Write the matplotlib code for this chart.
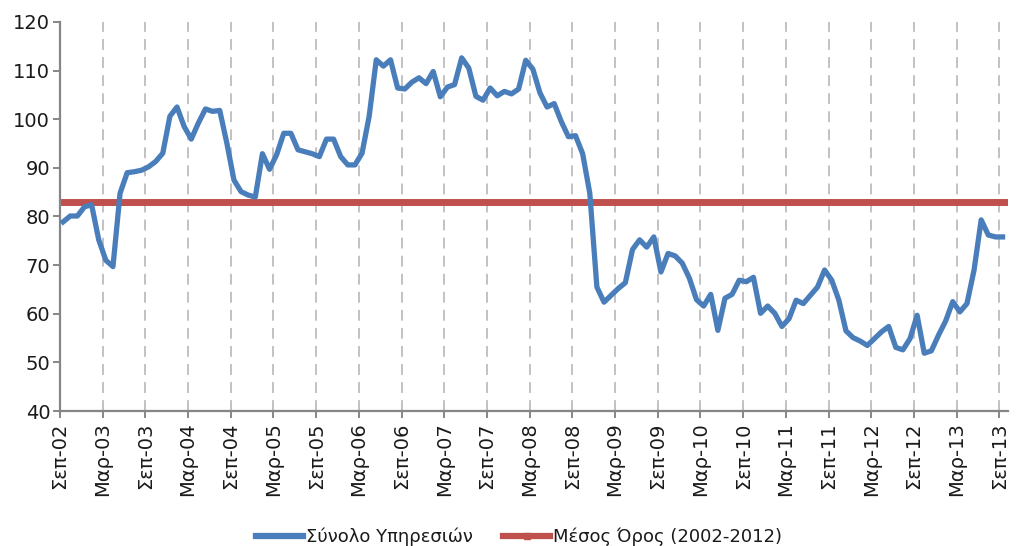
import numpy as np
import matplotlib
matplotlib.use("Agg")
import matplotlib.pyplot as plt
from matplotlib.lines import Line2D

plt.rcParams['font.family'] = ['DejaVu Sans']

# Monthly index, Sep 2002 - Sep 2013
services = [78.9, 80.1, 80.1, 82.0, 82.4, 75.2, 71.0, 69.7, 84.8, 89.0,
            89.2, 89.5, 90.2, 91.3, 93.0, 100.6, 102.5, 98.5, 95.9, 99.2,
            102.1, 101.6, 101.8, 95.1, 87.5, 85.1, 84.4, 84.0, 92.9, 89.7,
            92.7, 97.1, 97.1, 93.7, 93.3, 92.9, 92.3, 95.9, 95.9, 92.3,
            90.6, 90.6, 93.0, 100.6, 112.2, 110.9, 112.2, 106.4, 106.2, 107.6,
            108.5, 107.3, 109.8, 104.6, 106.6, 107.1, 112.6, 110.5, 104.7, 103.9,
            106.4, 104.8, 105.7, 105.2, 106.2, 112.1, 110.3, 105.4, 102.5, 103.2,
            99.5, 96.4, 96.6, 92.9, 84.8, 65.5, 62.4, 63.8, 65.2, 66.4,
            73.2, 75.2, 73.7, 75.8, 68.6, 72.4, 71.9, 70.4, 67.3, 62.9,
            61.6, 64.0, 56.6, 63.2, 64.0, 66.9, 66.6, 67.5, 60.1, 61.6,
            60.1, 57.4, 59.0, 62.8, 62.1, 63.8, 65.5, 69.0, 66.9, 62.8,
            56.5, 55.1, 54.4, 53.5, 54.9, 56.3, 57.4, 53.1, 52.6, 54.9,
            59.7, 51.9, 52.4, 55.6, 58.5, 62.5, 60.4, 62.1, 69.0, 79.3,
            76.2, 75.8, 75.8]
average_2002_2012 = 82.9

tick_labels = ["Σεπ-02", "Μαρ-03", "Σεπ-03", "Μαρ-04", "Σεπ-04", "Μαρ-05",
               "Σεπ-05", "Μαρ-06", "Σεπ-06", "Μαρ-07", "Σεπ-07", "Μαρ-08",
               "Σεπ-08", "Μαρ-09", "Σεπ-09", "Μαρ-10", "Σεπ-10", "Μαρ-11",
               "Σεπ-11", "Μαρ-12", "Σεπ-12", "Μαρ-13", "Σεπ-13"]

series_names = ["Σύνολο Υπηρεσιών", "Μέσος Όρος (2002-2012)"]

BLUE = "#4A7EBB"
RED = "#C0504D"
AXIS = "#868686"
TEXT = "#1a1a1a"

fig = plt.figure(figsize=(10.16, 5.46), dpi=100)
ax = fig.add_axes([0.059, 0.247, 0.933, 0.713])

n = len(services)
x = np.arange(n) + 0.45
tick_pos = np.arange(0, 6 * len(tick_labels), 6)

# vertical dashed gridlines
for tp in tick_pos[1:]:
    ax.axvline(tp, color="#BDBDBD", lw=1.3, dashes=(6, 4), zorder=1)

ax.axhline(average_2002_2012, color=RED, lw=5.0, zorder=2, solid_capstyle='butt')
ax.plot(x, services, color=BLUE, lw=3.8, zorder=3, solid_joinstyle='round')

ax.set_xlim(0, 133.2)
ax.set_ylim(40, 120)
ax.set_yticks(np.arange(40, 121, 10))
ax.set_xticks(tick_pos)
ax.set_xticklabels(tick_labels, rotation=90)

for s in ["top", "right"]:
    ax.spines[s].set_visible(False)
for s in ["left", "bottom"]:
    ax.spines[s].set_color(AXIS)
    ax.spines[s].set_linewidth(1.6)

ax.tick_params(axis="both", colors=AXIS, width=1.4, length=5, labelcolor=TEXT,
               labelsize=14)
ax.tick_params(axis="y", pad=2)
ax.tick_params(axis="x", pad=3)

handles = [Line2D([], [], color=BLUE, lw=4.5),
           Line2D([], [], color=RED, lw=4.5, marker="s", markersize=5,
                  markerfacecolor=RED, markeredgecolor=RED)]
fig.legend(handles, series_names, loc="center", bbox_to_anchor=(0.511, 0.017),
           ncol=2, frameon=False, fontsize=13, handlelength=2.6,
           columnspacing=1.7, handletextpad=0.15, labelcolor=TEXT)

fig.savefig("out.png", dpi=100)
